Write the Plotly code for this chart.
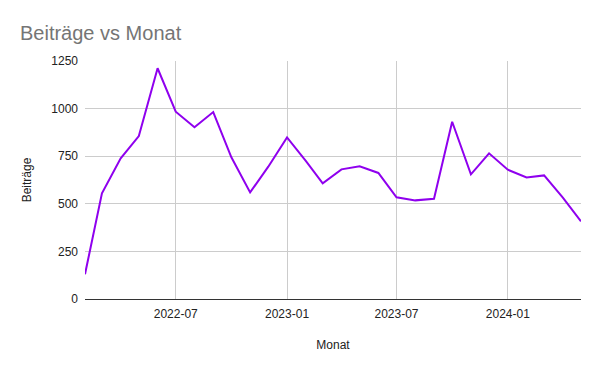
import plotly.graph_objects as go

months = ["2022-02-01", "2022-03-01", "2022-04-01", "2022-05-01", "2022-06-01", "2022-07-01",
          "2022-08-01", "2022-09-01", "2022-10-01", "2022-11-01", "2022-12-01", "2023-01-01",
          "2023-02-01", "2023-03-01", "2023-04-01", "2023-05-01", "2023-06-01", "2023-07-01",
          "2023-08-01", "2023-09-01", "2023-10-01", "2023-11-01", "2023-12-01", "2024-01-01",
          "2024-02-01", "2024-03-01", "2024-04-01", "2024-05-01"]
beitraege = [130, 555, 739, 856, 1212, 984,
             902, 982, 744, 560, 695, 849,
             725, 608, 681, 697, 662, 534,
             518, 526, 931, 655, 765, 679,
             638, 649, 532, 408]
x_tickvals = ["2022-07-01", "2023-01-01", "2023-07-01", "2024-01-01"]
x_ticktext = ["2022-07", "2023-01", "2023-07", "2024-01"]
y_tickvals = [0, 250, 500, 750, 1000, 1250]

font = "Arial, Liberation Sans, sans-serif"

fig = go.Figure(go.Scatter(
    x=months, y=beitraege, mode="lines",
    line=dict(color="#8f00ee", width=2),
))
fig.update_layout(
    width=600, height=371,
    margin=dict(l=85, r=19, t=61, b=72),
    paper_bgcolor="white", plot_bgcolor="white",
    showlegend=False,
    title=dict(text="Beiträge vs Monat", x=20/600, xanchor="left", y=1-33/371, yanchor="middle",
               font=dict(family=font, size=20, color="#757575")),
    font=dict(family=font, size=12, color="#222222"),
)
fig.update_xaxes(
    range=[months[0], months[-1]],
    tickvals=x_tickvals, ticktext=x_ticktext,
    showgrid=True, gridcolor="#cccccc", gridwidth=1,
    showline=False, zeroline=False, ticks="", ticklabelstandoff=6,
    tickfont=dict(size=12, color="#222222"),
    title=dict(text="Monat", font=dict(size=12, color="#222222"), standoff=20),
)
fig.update_yaxes(
    range=[0, 1250], tickvals=y_tickvals,
    showgrid=True, gridcolor="#cccccc", gridwidth=1,
    zeroline=True, zerolinecolor="#333333", zerolinewidth=1,
    showline=False, ticks="", ticklabelstandoff=6,
    tickfont=dict(size=12, color="#222222"),
    title=dict(text="Beiträge", font=dict(size=12, color="#222222"), standoff=17),
)
fig.write_html("out.html")
